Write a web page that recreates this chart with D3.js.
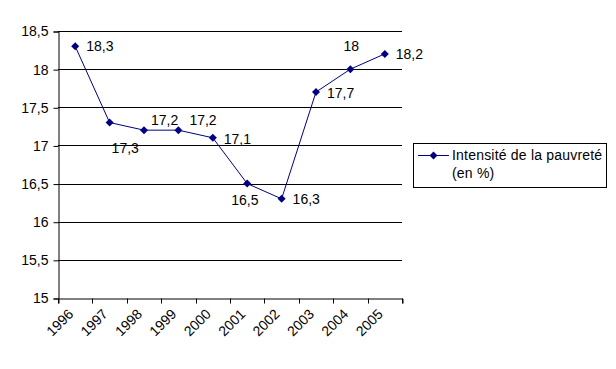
<!DOCTYPE html>
<html><head><meta charset="utf-8">
<script src="https://cdn.jsdelivr.net/npm/d3@7"></script>
<style>
body{margin:0;background:#fff;}
svg{display:block;font-family:"Liberation Sans",Arial,sans-serif;}
</style></head>
<body>
<svg id="c" width="616" height="369"></svg>
<script>
const years = ["1996","1997","1998","1999","2000","2001","2002","2003","2004","2005"];
const values = [18.3,17.3,17.2,17.2,17.1,16.5,16.3,17.7,18.0,18.2];
const valueLabels = ["18,3","17,3","17,2","17,2","17,1","16,5","16,3","17,7","18","18,2"];
const yTicks = [15,15.5,16,16.5,17,17.5,18,18.5];
const yTickLabels = ["15","15,5","16","16,5","17","17,5","18","18,5"];
const seriesName = ["Intensité de la pauvreté","(en %)"];
// label offsets (layout only)
const labelDx = [11,2,7,11,11,-16,11,11,-7,11];
const labelDy = [0,26,-10,-10,1,17,0,1,-23,0];

const svg = d3.select("#c");
const color = "#000080";
const x = d3.scaleBand().domain(years).range([58,402]).padding(0);
const y = d3.scaleLinear().domain([15,18.5]).range([298,31]);

// gridlines
svg.append("g").selectAll("line").data(yTicks.filter(d=>d>15)).join("line")
  .attr("x1",58).attr("x2",402).attr("y1",d=>Math.round(y(d))+0.5).attr("y2",d=>Math.round(y(d))+0.5)
  .attr("stroke","#000").attr("stroke-width",1);

// y axis
const yAxis = d3.axisLeft(y).tickValues(yTicks).tickSize(5).tickPadding(5)
  .tickFormat((d,i)=>yTickLabels[i]);
const gy = svg.append("g").attr("transform","translate(58.5,0.5)").call(yAxis);
gy.select(".domain").attr("stroke","#000");
gy.selectAll(".tick line").attr("stroke","#000");
gy.selectAll("text").attr("font-size","14px").attr("fill","#000").attr("font-family","Liberation Sans, Arial, sans-serif");

// x axis
const xAxis = d3.axisBottom(x).tickSize(5).tickFormat("");
const gx = svg.append("g").attr("transform","translate(0.5,298.5)").call(xAxis);
gx.select(".domain").attr("stroke","#000");
gx.selectAll(".tick").remove();
const bounds = years.map(d=>x(d)).concat([x.range()[1]]);
gx.selectAll("line.b").data(bounds).join("line").attr("class","b")
  .attr("x1",d=>Math.round(d)).attr("x2",d=>Math.round(d)).attr("y1",0).attr("y2",5).attr("stroke","#000");
gx.selectAll("text.yl").data(years).join("text").attr("class","yl")
  .attr("transform",d=>`translate(${x(d)+x.bandwidth()/2-5},${13}) rotate(-45)`)
  .attr("text-anchor","end").attr("dy","0.35em")
  .attr("font-size","14px").attr("fill","#000").text(d=>d);

// line
const cx = d=>x(d)+x.bandwidth()/2;
const line = d3.line().x((d,i)=>cx(years[i])).y(d=>y(d));
svg.append("path").datum(values).attr("d",line).attr("fill","none").attr("stroke",color).attr("stroke-width",1);

const diamond = "M0,-4L4,0L0,4L-4,0Z";
svg.append("g").selectAll("path").data(values).join("path")
  .attr("d",diamond).attr("fill",color)
  .attr("transform",(d,i)=>`translate(${cx(years[i])},${y(d)})`);

svg.append("g").selectAll("text").data(values).join("text")
  .attr("x",(d,i)=>cx(years[i])+labelDx[i]).attr("y",(d,i)=>y(d)+labelDy[i])
  .attr("dy","0.35em").attr("font-size","14px").attr("fill","#000")
  .text((d,i)=>valueLabels[i]);

// legend
const lg = svg.append("g");
lg.append("rect").attr("x",413.5).attr("y",143.5).attr("width",193).attr("height",44)
  .attr("fill","#fff").attr("stroke","#000");
lg.append("line").attr("x1",418).attr("x2",449).attr("y1",155.5).attr("y2",155.5).attr("stroke",color);
lg.append("path").attr("d",diamond).attr("fill",color).attr("transform","translate(433.5,155.5)");
lg.selectAll("text").data(seriesName).join("text")
  .attr("x",452).attr("y",(d,i)=>155+i*18).attr("dy","0.35em")
  .attr("font-size","14px").attr("letter-spacing","0.2px").attr("fill","#000").text(d=>d);
</script>
</body></html>
